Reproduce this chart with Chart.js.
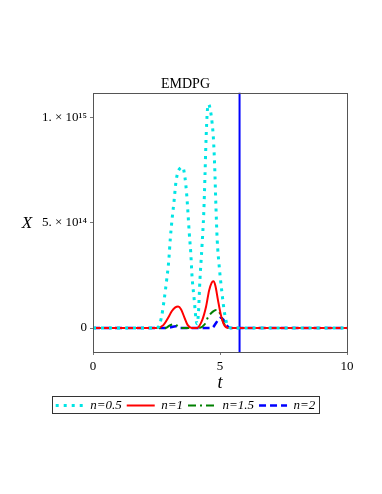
<!DOCTYPE html>
<html>
<head>
<meta charset="utf-8">
<script src="https://cdn.jsdelivr.net/npm/chart.js@4.4.0/dist/chart.umd.min.js"></script>
<style>
    html, body { margin: 0; padding: 0; background: #fff; }
    #wrap { width: 382px; height: 494px; position: relative; }
</style>
</head>
<body>
<div id="wrap"><canvas id="chart"></canvas></div>
<script>
// X values are in units of 1e14
const tHalf = [0, 2.45, 2.57, 2.70, 2.80, 2.90, 2.98, 3.04, 3.11, 3.19, 3.26, 3.33, 3.43, 3.53, 3.62, 3.69, 3.74, 3.79, 3.85, 3.90, 3.98, 4.06, 4.10, 4.15, 4.21, 4.29, 4.36, 4.41, 4.45, 4.50, 4.55, 4.63, 4.69, 4.74, 4.79, 4.84, 4.89, 4.97, 5.08, 5.18, 5.33, 5.5, 10];
const xHalf = [0, 0, 0.05, 0.54, 1.33, 2.29, 3.16, 4.19, 5.14, 6.02, 6.89, 7.37, 7.60, 7.65, 7.17, 6.33, 5.46, 4.51, 3.56, 2.44, 1.41, 0.38, 0.2, 0.70, 2.29, 3.87, 5.46, 7.30, 8.95, 10.30, 10.65, 10.30, 9.75, 9.03, 7.71, 5.78, 4.19, 2.92, 1.65, 0.70, 0.05, 0, 0];

const tOne = [0, 2.5, 2.77, 2.97, 3.10, 3.24, 3.35, 3.47, 3.60, 3.73, 3.89, 4.08, 4.30, 4.45, 4.57, 4.67, 4.74, 4.82, 4.92, 5.03, 5.15, 5.33, 10];
const xOne = [0, 0, 0.14, 0.51, 0.80, 0.98, 1.02, 0.88, 0.50, 0.14, 0, 0, 0.38, 1.01, 1.78, 2.15, 2.22, 2.00, 1.33, 0.65, 0.18, 0, 0];

const tOneHalf = [0, 2.85, 3.02, 3.16, 3.30, 3.50, 4.14, 4.40, 4.54, 4.72, 4.85, 4.93, 5.03, 5.16, 5.33, 10];
const xOneHalf = [0, 0, 0.12, 0.18, 0.12, 0, 0, 0.18, 0.54, 0.78, 0.86, 0.84, 0.6, 0.2, 0, 0];

const tTwo = [0, 2.9, 3.1, 3.25, 3.45, 4.67, 4.85, 4.95, 5.03, 5.12, 5.25, 5.39, 10];
const xTwo = [0, 0, 0.05, 0.08, 0, 0, 0.25, 0.44, 0.49, 0.42, 0.15, 0, 0];

// singular line of the n=2 curve
const tPole = [5.77, 5.77];
const xPole = [-5, 20];

const seriesNames = ['n=0.5', 'n=1', 'n=1.5', 'n=2'];
const yTickValues = [0, 5, 10];
const yTickLabels = ['0', '5. × 10¹⁴', '1. × 10¹⁵'];
const xTickValues = [0, 5, 10];

function zip(ts, xs) {
    return ts.map((t, i) => ({ x: t, y: xs[i] }));
}

const serif = "'Liberation Serif', 'Times New Roman', serif";

// frame around plot, the X label and the legend box
const extras = {
    id: 'extras',
    afterDraw(chart) {
        const ctx = chart.ctx;
        const a = chart.chartArea;
        ctx.save();
        ctx.strokeStyle = '#555';
        ctx.lineWidth = 1;
        ctx.strokeRect(Math.round(a.left) + 0.5, Math.round(a.top) + 0.5, Math.round(a.right - a.left), Math.round(a.bottom - a.top));

        const yScale = chart.scales.y;
        ctx.fillStyle = '#000';
        ctx.font = 'italic 17px ' + serif;
        ctx.textAlign = 'center';
        ctx.textBaseline = 'middle';
        ctx.fillText('X', 27, yScale.getPixelForValue(5) + 1);

        const boxes = chart.legend.legendHitBoxes;
        if (boxes && boxes.length) {
            const l = boxes[0].left - 4;
            const r = boxes[boxes.length - 1].left + boxes[boxes.length - 1].width + 3;
            const t = boxes[0].top - 3;
            const h = boxes[0].height + 4;
            ctx.strokeStyle = '#333';
            ctx.strokeRect(Math.round(l) + 0.5, Math.round(t) + 0.5, Math.round(r - l), Math.round(h));
        }
        ctx.restore();
    }
};

const ctx = document.getElementById('chart').getContext('2d');
const chart = new Chart(ctx, {
    type: 'line',
    data: {
        datasets: [{
            label: seriesNames[0],
            data: zip(tHalf, xHalf),
            borderColor: '#00e5e5',
            backgroundColor: '#00e5e5',
            borderWidth: 3,
            borderDash: [3, 5],
            pointRadius: 0,
            cubicInterpolationMode: 'monotone'
        }, {
            label: seriesNames[1],
            data: zip(tOne, xOne),
            borderColor: '#ff0000',
            backgroundColor: '#ff0000',
            borderWidth: 2,
            pointRadius: 0,
            cubicInterpolationMode: 'monotone'
        }, {
            label: seriesNames[2],
            data: zip(tOneHalf, xOneHalf),
            borderColor: '#008000',
            backgroundColor: '#008000',
            borderWidth: 2,
            borderDash: [8, 4, 2, 4],
            pointRadius: 0,
            cubicInterpolationMode: 'monotone'
        }, {
            label: seriesNames[3],
            data: zip(tTwo, xTwo),
            borderColor: '#0000ff',
            backgroundColor: '#0000ff',
            borderWidth: 2.5,
            borderDash: [7, 4],
            pointRadius: 0,
            cubicInterpolationMode: 'monotone'
        }, {
            label: 'pole',
            data: zip(tPole, xPole),
            borderColor: '#0000ff',
            borderWidth: 2,
            pointRadius: 0,
            clip: 0
        }]
    },
    options: {
        responsive: true,
        maintainAspectRatio: false,
        animation: false,
        layout: {
            padding: { left: 24, right: 35, top: 76, bottom: 72 }
        },
        scales: {
            x: {
                type: 'linear',
                min: 0,
                max: 10,
                afterFit: function(scale) { scale.height = 42; },
                afterBuildTicks: function(scale) {
                    scale.ticks = xTickValues.map(v => ({ value: v }));
                },
                border: { display: false },
                grid: { drawOnChartArea: false, tickLength: 3, color: '#777' },
                ticks: {
                    color: '#000',
                    font: { family: serif, size: 13 },
                    padding: 4,
                    maxRotation: 0
                },
                title: {
                    display: true,
                    text: 't',
                    color: '#000',
                    font: { family: serif, size: 18, style: 'italic' },
                    padding: { top: 0, bottom: 0 }
                }
            },
            y: {
                min: -1.14,
                max: 11.19,
                afterFit: function(scale) { scale.width = 69; },
                afterBuildTicks: function(scale) {
                    scale.ticks = yTickValues.map(v => ({ value: v }));
                },
                border: { display: false },
                grid: { drawOnChartArea: false, tickLength: 3, color: '#777' },
                ticks: {
                    color: '#000',
                    font: { family: serif, size: 13 },
                    padding: 3,
                    callback: function(value) {
                        const i = yTickValues.indexOf(value);
                        return i >= 0 ? yTickLabels[i] : '';
                    }
                }
            }
        },
        plugins: {
            title: {
                display: true,
                text: 'EMDPG',
                color: '#000',
                font: { family: serif, size: 14, weight: 'normal' },
                padding: { top: 0, bottom: 0 }
            },
            legend: {
                position: 'bottom',
                labels: {
                    usePointStyle: true,
                    pointStyle: 'line',
                    pointStyleWidth: 28,
                    boxHeight: 12,
                    color: '#000',
                    padding: 5,
                    font: { family: serif, size: 13, style: 'italic' },
                    generateLabels: function(chart) {
                        return chart.data.datasets
                            .map((ds, i) => ({
                                text: ds.label,
                                datasetIndex: i,
                                strokeStyle: ds.borderColor,
                                fillStyle: ds.borderColor,
                                lineWidth: ds.borderWidth,
                                lineDash: ds.borderDash || [],
                                pointStyle: 'line',
                                fontColor: '#000',
                                hidden: false
                            }))
                            .filter(item => item.text !== 'pole');
                    }
                }
            },
            tooltip: { enabled: false }
        }
    },
    plugins: [extras]
});
</script>
</body>
</html>
